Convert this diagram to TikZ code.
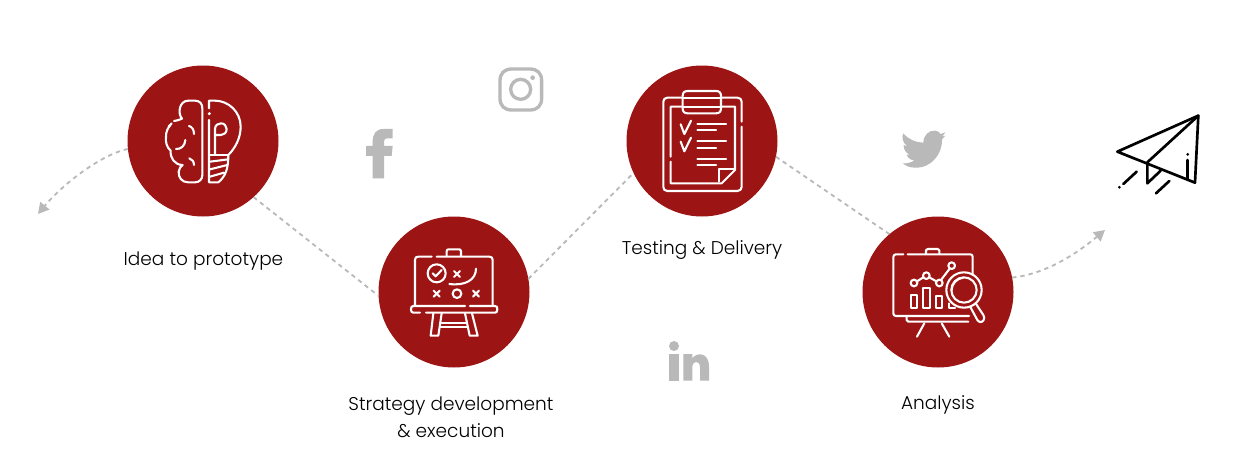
\documentclass[tikz,border=0pt]{standalone}
\usepackage{fontspec}
\setmainfont{Poppins Light}
\usetikzlibrary{arrows.meta}
\definecolor{brick}{HTML}{9C1514}
\definecolor{soft}{HTML}{B9B9B9}
\tikzset{
  disc/.style={circle,fill=brick,minimum size=151*0.6pt,inner sep=0pt,outer sep=0pt},
  caption/.style={font=\fontsize{11.1pt}{13pt}\selectfont,text=black,inner sep=0pt,align=center},
  link/.style={draw=soft,line width=1.1pt,dash pattern=on 2.6pt off 2.4pt},
  flow/.style={link,-{Triangle[length=6.5pt,width=7pt,fill=soft,color=soft]}},
  ico/.style={draw=white,line width=1.25pt,line cap=round,line join=round},
  zoomed/.style={x=0.2pt,y=-0.2pt},
  planeline/.style={draw=black,line width=1.6pt,line cap=round,line join=round}
}
\begin{document}
\begin{tikzpicture}[x=0.6pt,y=-0.6pt]
\useasboundingbox (0,0) rectangle (1250,474);
\node[disc] (c1) at (203,141) {};
\node[disc] (c2) at (454,292) {};
\node[disc] (c3) at (702,141) {};
\node[disc] (c4) at (938,292) {};
\coordinate (leftend) at (38,214);
\coordinate (rightend) at (1105,230);
\draw[flow] (c1.186) .. controls (100,155) and (62,185) .. (leftend);
\draw[link] (c1.-48) -- (c2.183);
\draw[link] (c2.10) -- (c3.205);
\draw[link] (c3.-12) -- (c4.130);
\draw[flow] (c4.11) .. controls (1045,274) and (1075,255) .. (rightend);
\node[caption] (t1) at (203.5,261.5) {Idea to prototype};
\node[caption] (t2) at (451,417.5) {Strategy development\\[3pt]\& execution};
\node[caption] (t3) at (702,250.5) {Testing \& Delivery};
\node[caption] (t4) at (938,404.5) {Analysis};
% brain / bulb
\begin{scope}[shift={(120,60)},zoomed]
\draw[ico] (205,122) -- (225,122) .. controls (240,122) and (247,132) .. (247,145) -- (247,345) .. controls (247,358) and (238,367) .. (225,367) -- (205,367) .. controls (185,367) and (175,352) .. (176,335) .. controls (178,325) and (182,318) .. (188,315) .. controls (165,315) and (150,295) .. (152,272) .. controls (140,262) and (136,245) .. (138,230) .. controls (138,215) and (142,205) .. (155,190);
\draw[ico] (162,183) .. controls (170,182) and (178,180) .. (186,176) .. controls (172,160) and (178,122) .. (205,122);
\fill[white] (148,198) circle (5);
\draw[ico] (207,198) .. controls (215,200) and (222,208) .. (222,222);
\draw[ico] (168,267) .. controls (182,268) and (195,258) .. (196,240);
\draw[ico] (208,295) .. controls (216,298) and (222,304) .. (222,315);
\draw[ico] (267,180) -- (267,367) -- (295,367) .. controls (315,350) and (325,330) .. (325,285) .. controls (345,265) and (362,235) .. (362,200) .. controls (362,155) and (325,122) .. (285,122) -- (267,122) -- (267,145);
\fill[white] (268,161) circle (5);
\draw[ico] (270,285) -- (325,285);
\draw[ico] (270,305) -- (325,298);
\draw[ico] (270,328) -- (322,315);
\draw[ico] (270,350) -- (312,338);
\draw[ico] (285,285) -- (285,207) .. controls (285,195) and (295,190) .. (303,190) .. controls (313,190) and (320,198) .. (320,207) .. controls (320,218) and (312,225) .. (303,225) -- (285,225);
\end{scope}
% strategy board
\begin{scope}[shift={(370,210)},zoomed]
\draw[ico] (135,285) -- (135,150) .. controls (135,143) and (138,140) .. (145,140) -- (185,140);
\draw[ico] (200,140) -- (358,140) .. controls (365,140) and (368,143) .. (368,150) -- (368,285);
\draw[ico] (230,138) -- (230,124) .. controls (230,120) and (232,118) .. (236,118) -- (267,118) .. controls (271,118) and (273,120) .. (273,124) -- (273,138);
\draw[ico] (150,308) -- (130,308) .. controls (125,308) and (123,305) .. (123,298) .. controls (123,291) and (125,288) .. (130,288) -- (285,288);
\draw[ico] (300,288) -- (375,288) .. controls (380,288) and (382,291) .. (382,298) .. controls (382,305) and (380,308) .. (375,308) -- (168,308);
\draw[ico] (190,310) -- (182,377) -- (205,377) -- (215,310);
\draw[ico] (285,310) -- (299,377) -- (323,377) -- (306,310);
\draw[ico] (215,340) -- (288,340);
\draw[ico] (212,352) -- (290,352);
\draw[ico] (200,190) circle (27);
\draw[ico] (188,190) -- (197,199) -- (215,180);
\draw[ico] (252,183) -- (270,201) (270,183) -- (252,201);
\draw[ico] (191,242) -- (209,260) (209,242) -- (191,260);
\draw[ico] (261,251) circle (13);
\draw[ico] (309,242) -- (327,260) (327,242) -- (309,260);
\draw[ico] (238,222) .. controls (285,228) and (318,210) .. (318,176);
\end{scope}
% clipboard
\begin{scope}[shift={(620,60)},zoomed]
\draw[ico] (365,185) -- (365,125) .. controls (365,118) and (360,113) .. (352,113) -- (142,113) .. controls (135,113) and (130,118) .. (130,125) -- (130,381) .. controls (130,388) and (135,393) .. (142,393) -- (352,393) .. controls (360,393) and (365,388) .. (365,381) -- (365,200);
\draw[ico] (152,290) -- (152,140) -- (345,140) -- (345,330) -- (305,370) -- (152,370) -- (152,305);
\draw[ico,fill=brick] (203,93) -- (288,93) .. controls (298,93) and (303,98) .. (303,108) -- (303,145) .. controls (303,155) and (298,160) .. (288,160) -- (203,160) .. controls (193,160) and (188,155) .. (188,145) -- (188,108) .. controls (188,98) and (193,93) .. (203,93) -- cycle;
\draw[ico] (188,113) -- (303,113) (188,140) -- (303,140);
\draw[ico] (298,365) -- (298,328) -- (343,328);
\draw[ico] (182,193) -- (193,222) -- (213,182);
\draw[ico] (182,245) -- (193,274) -- (213,233);
\draw[ico] (232,191) -- (318,191) (232,211) -- (288,211);
\draw[ico] (232,244) -- (318,244) (232,264) -- (288,264);
\draw[ico] (232,296) -- (318,296) (232,316) -- (288,316);
\end{scope}
% analysis board
\begin{scope}[shift={(855,210)},zoomed]
\draw[ico] (145,133) -- (123,133) .. controls (118,133) and (115,136) .. (115,141) -- (115,310) .. controls (115,315) and (118,318) .. (123,318) -- (342,318);
\draw[ico] (158,133) -- (346,133) .. controls (351,133) and (353,136) .. (353,141) -- (353,195);
\draw[ico] (213,131) -- (213,121) .. controls (213,118) and (215,117) .. (218,117) -- (248,117) .. controls (251,117) and (253,118) .. (253,121) -- (253,131);
\draw[ico] (155,320) -- (155,330) .. controls (155,333) and (157,335) .. (160,335) -- (340,335);
\draw[ico] (208,340) -- (186,380) (260,340) -- (283,380);
\draw[ico] (177,219) circle (10) (214,197) circle (10) (253,219) circle (10) (290,167) circle (10);
\draw[ico] (186,214) -- (205,202) (223,202) -- (244,214) (258,210) -- (284,176);
\draw[ico] (167,255) rectangle (187,294);
\draw[ico] (204,235) rectangle (224,294);
\draw[ico] (242,258) rectangle (262,294);
\draw[ico] (281,280) -- (281,294) -- (300,294);
\draw[ico] (327,240) circle (53);
\draw[ico] (327,240) circle (38);
\draw[ico] (290,240) .. controls (290,222) and (305,205) .. (325,203);
\draw[ico] (346,291) -- (367,330) .. controls (372,338) and (382,338) .. (386,330) .. controls (389,325) and (388,320) .. (385,315) -- (362,280);
\end{scope}
% paper plane
\begin{scope}[shift={(1090,100)},zoomed]
\draw[planeline] (325,47) -- (82,155) -- (315,248) -- cycle;
\draw[planeline] (325,47) -- (172,187) -- (172,250) -- (212,212);
\draw[planeline] (293,180) -- (293,238);
\fill (293,163) circle (4.5);
\draw[planeline] (140,215) -- (100,252);
\fill (88,262) circle (4.5);
\draw[planeline] (238,243) -- (198,280);
\end{scope}
% instagram
\begin{scope}[shift={(350,60)},zoomed]
\draw[draw=soft,line width=2pt] (485,27) -- (540,27) .. controls (562,27) and (575,40) .. (575,62) -- (575,115) .. controls (575,137) and (562,150) .. (540,150) -- (485,150) .. controls (463,150) and (450,137) .. (450,115) -- (450,62) .. controls (450,40) and (463,27) .. (485,27) -- cycle;
\draw[draw=soft,line width=2pt] (512,88) circle (30);
\fill[soft] (548,53) circle (7);
\fill[soft] (128,207) -- (100,207) .. controls (78,207) and (68,222) .. (68,245) -- (68,258) -- (48,258) -- (48,288) -- (68,288) -- (68,355) -- (102,355) -- (102,288) -- (125,288) -- (128,258) -- (102,258) -- (102,245) .. controls (102,237) and (106,235) .. (112,235) -- (128,235) -- cycle;
\end{scope}
% twitter
\begin{scope}[shift={(890,120)},zoomed]
\fill[soft] (40,40) .. controls (55,58) and (78,68) .. (100,68) .. controls (100,45) and (118,30) .. (135,32) .. controls (142,32) and (148,36) .. (152,42) -- (166,37) -- (157,50) -- (166,47) -- (156,58) .. controls (158,100) and (125,145) .. (75,143) .. controls (60,143) and (48,138) .. (38,130) .. controls (52,131) and (63,128) .. (73,121) .. controls (62,120) and (53,114) .. (50,104) -- (60,104) .. controls (48,100) and (40,88) .. (41,75) -- (52,79) .. controls (38,68) and (34,52) .. (40,40) -- cycle;
\end{scope}
% linkedin
\begin{scope}[shift={(655,330)},zoomed]
\fill[soft] (57,48) circle (15);
\fill[soft] (43,72) rectangle (71,152);
\fill[soft] (85,72) -- (112,72) -- (112,85) .. controls (125,66) and (162,66) .. (162,110) -- (162,152) -- (135,152) -- (135,112) .. controls (135,90) and (112,90) .. (112,112) -- (112,152) -- (85,152) -- cycle;
\end{scope}
\end{tikzpicture}
\end{document}
